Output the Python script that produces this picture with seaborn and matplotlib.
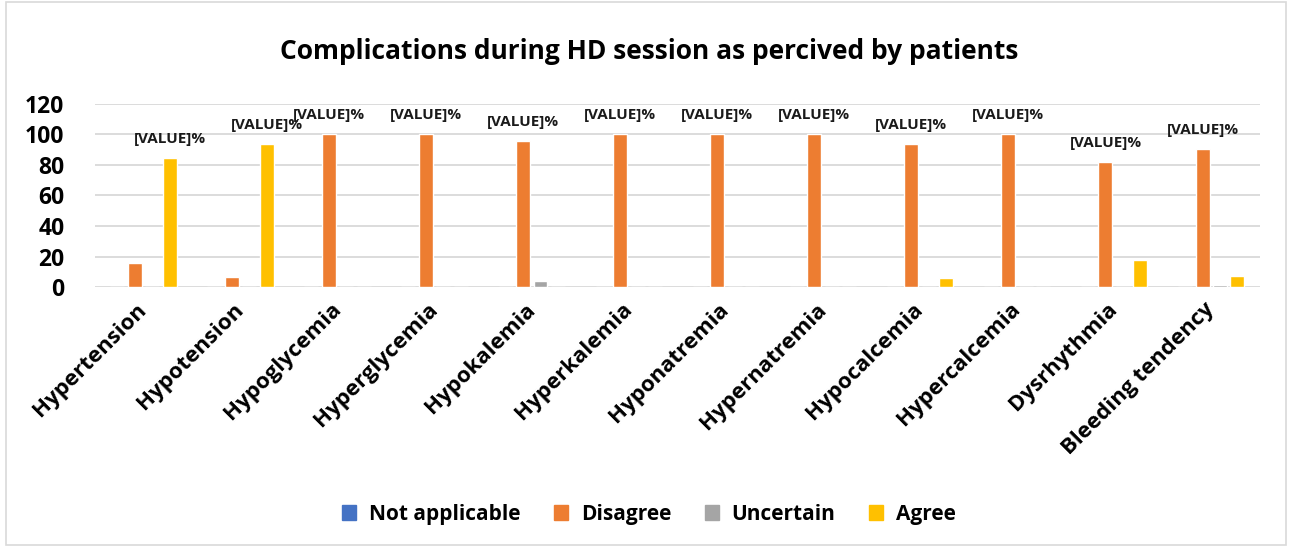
import pandas as pd
import seaborn as sns
import matplotlib.pyplot as plt

categories = ['Hypertension', 'Hypotension', 'Hypoglycemia', 'Hyperglycemia', 'Hypokalemia',
              'Hyperkalemia', 'Hyponatremia', 'Hypernatremia', 'Hypocalcemia', 'Hypercalcemia',
              'Dysrhythmia', 'Bleeding tendency']
series = ['Not applicable', 'Disagree', 'Uncertain', 'Agree']
not_applicable = [0, 0, 0, 0, 0, 0, 0, 0, 0, 0, 0, 0]
disagree = [15.6, 6.3, 100, 100, 95.8, 100, 100, 100, 93.8, 100, 82.0, 90.6]
uncertain = [0, 0, 0, 0, 4.2, 0, 0, 0, 0, 0, 0, 1.6]
agree = [84.4, 93.7, 0, 0, 0, 0, 0, 0, 6.2, 0, 18.0, 7.0]
colors = ['#4472C4', '#ED7D31', '#A5A5A5', '#FFC000']

rows = []
for name, vals in zip(series, [not_applicable, disagree, uncertain, agree]):
    for c, v in zip(categories, vals):
        rows.append({'Complication': c, 'Response': name, 'Percent': v})
df = pd.DataFrame(rows)

sns.set_style('white')
plt.rcParams['font.family'] = ['Open Sans', 'DejaVu Sans']
plt.rcParams['font.weight'] = 'bold'
plt.rcParams['text.color'] = 'black'
plt.rcParams['xtick.color'] = 'black'
plt.rcParams['ytick.color'] = 'black'

fig = plt.figure(figsize=(12.9, 5.47), dpi=100)
fig.patches.append(plt.Rectangle((0.005, 0.004), 0.992, 0.992, transform=fig.transFigure,
                                 fill=False, edgecolor='#d9d9d9', linewidth=1.2))
ax = fig.add_axes([0.0736, 0.4753, 0.903, 0.3346])

sns.barplot(data=df, x='Complication', y='Percent', hue='Response', hue_order=series,
            palette=colors, width=0.72, gap=0.2, ax=ax, legend=False, saturation=1)

ax.set_ylim(0, 120)
ax.set_yticks(range(0, 121, 20))
ax.yaxis.grid(True, color='#d9d9d9', linewidth=1.3)
ax.set_axisbelow(True)
for s in ax.spines.values():
    s.set_visible(False)
ax.set_xlabel('')
ax.set_ylabel('')
ax.tick_params(axis='y', labelsize=16.5, length=0, pad=22)
ax.tick_params(axis='x', length=0, pad=14)
for lab in ax.get_yticklabels():
    lab.set_fontweight('bold')
ax.set_xticks(range(len(categories)))
ax.set_xticklabels(categories, rotation=45, ha='right', va='center', rotation_mode='anchor',
                   fontsize=16, fontweight='bold')

# data labels ("[VALUE]%" as in the original), placed above the tallest bar of each group
slot = 0.72 / 4
for i in range(len(categories)):
    vals = [not_applicable[i], disagree[i], uncertain[i], agree[i]]
    j = max(range(4), key=lambda k: vals[k])
    x = i - 0.36 + slot * (j + 0.5)
    ax.text(x, vals[j] + 8, '[VALUE]%', ha='center', va='bottom', fontsize=11,
            fontweight='bold', color='#1a1a1a', clip_on=False)

fig.text(0.503, 0.905, 'Complications during HD session as percived by patients',
         ha='center', va='center', fontsize=19, fontweight='bold', color='black')

handles = [plt.Rectangle((0, 0), 1, 1, color=c) for c in colors]
fig.legend(handles, series, loc='center', bbox_to_anchor=(0.503, 0.06), ncol=4,
           frameon=False, prop={'size': 15, 'weight': 'bold'}, handlelength=0.7,
           handleheight=0.7, columnspacing=1.6, handletextpad=0.6)

fig.savefig('out.png', dpi=100)
